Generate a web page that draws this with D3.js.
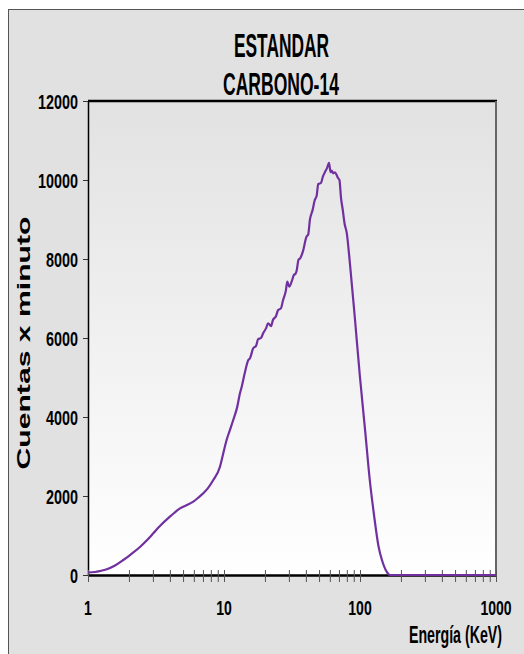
<!DOCTYPE html>
<html>
<head>
<meta charset="utf-8">
<script src="https://cdn.jsdelivr.net/npm/d3@7"></script>
<style>
  html, body { margin: 0; padding: 0; background: #ffffff; }
  svg { display: block; }
</style>
</head>
<body>
<svg id="chart" width="524" height="654"></svg>
<script>
// ---- data ----
const energy = [1.00, 1.126, 1.225, 1.372, 1.58, 1.818, 2.036, 2.41, 2.71, 3.02, 3.38, 4.0, 4.3, 4.75, 5.25, 5.95, 6.43, 7.04, 7.62, 8.34, 9.34, 9.83, 10.45, 11.0, 11.69, 12.5, 13.1, 13.5, 14.2, 15.1, 15.5, 16.4, 17.2, 17.8, 18.7, 19.4, 20.4, 21.1, 22.2, 22.9, 24.1, 25.0, 26.2, 27.2, 28.5, 29.2, 30.2, 31.6, 32.7, 33.5, 34.2, 35.3, 36.3, 38.1, 40.4, 41.6, 42.8, 44.9, 46.5, 48.0, 49.3, 51.5, 53.5, 55.4, 57.2, 59.2, 60.7, 61.9, 63.6, 65.4, 67.5, 68.9, 70.6, 72.5, 74.7, 77.0, 79.9, 84.3, 91.7, 100, 109, 118, 127, 137, 145, 157, 166, 200, 400, 1000];
const counts = [63, 76, 101, 144, 240, 380, 506, 709, 880, 1055, 1240, 1477, 1570, 1688, 1760, 1857, 1950, 2068, 2200, 2405, 2742, 3050, 3418, 3650, 3924, 4250, 4600, 4767, 5110, 5443, 5480, 5739, 5800, 5967, 6000, 6119, 6250, 6372, 6300, 6456, 6550, 6709, 6750, 6962, 7200, 7425, 7299, 7450, 7600, 7620, 7700, 7980, 8017, 8200, 8565, 8620, 8987, 9250, 9494, 9600, 9900, 9920, 10100, 10210, 10300, 10437, 10200, 10235, 10170, 10195, 10120, 10050, 10000, 9550, 9240, 8900, 8660, 7890, 6500, 5000, 3670, 2405, 1500, 716, 380, 84, 0, 0, 0, 0];
const yTicks = [0, 2000, 4000, 6000, 8000, 10000, 12000];
const xMajorTicks = [1, 10, 100, 1000];
const xMinorTicks = [2,3,4,5,6,7,8,9,20,30,40,50,60,70,80,90,200,300,400,500,600,700,800,900];
const titleLines = ["ESTANDAR", "CARBONO-14"];
const xLabel = "Energía (KeV)";
const yLabel = "Cuentas x minuto";

// ---- layout ----
const svg = d3.select("#chart");
const plot = { left: 88, right: 496, top: 101, bottom: 575 };
const sans = "'Liberation Sans', Arial, sans-serif";

// draw a text and squeeze it horizontally to a given width (like the condensed font of the original)
function fitText(parent, str, x, baseline, width, size, anchor, rotate) {
  const g = parent.append("g");
  const t = g.append("text").attr("x", 0).attr("y", 0)
    .attr("font-family", sans).attr("font-weight", "bold").attr("font-size", size)
    .attr("fill", "#000").text(str);
  const w = t.node().getComputedTextLength();
  const s = width / w;
  let tx = anchor === "middle" ? -w / 2 : anchor === "end" ? -w : 0;
  t.attr("x", tx);
  if (rotate) {
    g.attr("transform", `translate(${x},${baseline}) rotate(-90) scale(${s},1)`);
  } else {
    g.attr("transform", `translate(${x},${baseline}) scale(${s},1)`);
  }
  return g;
}

const defs = svg.append("defs");
const grad = defs.append("linearGradient").attr("id", "bg").attr("x1", 0).attr("y1", 0).attr("x2", 0).attr("y2", 1);
grad.append("stop").attr("offset", "0%").attr("stop-color", "#e2e2e2");
grad.append("stop").attr("offset", "100%").attr("stop-color", "#ffffff");

// outer frame
svg.append("rect").attr("x", 8).attr("y", 9).attr("width", 516).attr("height", 645)
  .attr("fill", "#e1e1e1");
svg.append("line").attr("x1", 8.5).attr("x2", 8.5).attr("y1", 9).attr("y2", 654).attr("stroke", "#555").attr("stroke-width", 1);
svg.append("line").attr("x1", 8).attr("x2", 524).attr("y1", 9.5).attr("y2", 9.5).attr("stroke", "#555").attr("stroke-width", 1);

// plot area
svg.append("rect").attr("x", plot.left).attr("y", plot.top)
  .attr("width", plot.right - plot.left).attr("height", plot.bottom - plot.top)
  .attr("fill", "url(#bg)");

const x = d3.scaleLog().domain([1, 1000]).range([plot.left, plot.right]);
const y = d3.scaleLinear().domain([0, 12000]).range([plot.bottom, plot.top]);

// plot border top & right
svg.append("line").attr("x1", plot.left).attr("x2", plot.right + 1).attr("y1", plot.top).attr("y2", plot.top)
  .attr("stroke", "#000").attr("stroke-width", 2.5);
svg.append("line").attr("x1", plot.right).attr("x2", plot.right).attr("y1", plot.top).attr("y2", plot.bottom)
  .attr("stroke", "#666").attr("stroke-width", 2);

// y axis
const yAxis = svg.append("g").attr("transform", `translate(${plot.left},0)`)
  .call(d3.axisLeft(y).tickValues(yTicks).tickSize(5).tickSizeOuter(0).tickFormat(""));
yAxis.select(".domain").attr("stroke", "#000").attr("stroke-width", 1.5);
yAxis.selectAll(".tick line").attr("stroke", "#333").attr("stroke-width", 1);
yTicks.forEach(v => {
  const s = d3.format("d")(v);
  fitText(svg, s, 78, y(v) + 7.5, s.length * 8, 21, "end");
});

// x axis
const xAxis = svg.append("g").attr("transform", `translate(0,${plot.bottom})`)
  .call(d3.axisBottom(x).tickValues(xMajorTicks.concat(xMinorTicks)).tickSize(7).tickSizeOuter(0).tickFormat(""));
xAxis.select(".domain").attr("stroke", "#000").attr("stroke-width", 2.5);
xAxis.selectAll(".tick line").attr("y1", -5).attr("y2", 7).attr("stroke", "#555").attr("stroke-width", 1);
xMajorTicks.forEach(v => {
  const s = String(v);
  fitText(svg, s, x(v), 615, s.length * 7.8, 21, "middle");
});

// data line
const pts = energy.map((e, i) => [e, counts[i]]);
const line = d3.line().x(d => x(d[0])).y(d => y(d[1])).curve(d3.curveMonotoneX);
svg.append("path").datum(pts).attr("d", line)
  .attr("fill", "none").attr("stroke", "#7030a0").attr("stroke-width", 2.2)
  .attr("stroke-linejoin", "round");

// titles
fitText(svg, titleLines[0], 281.5, 57, 95, 34, "middle");
fitText(svg, titleLines[1], 281, 95, 116, 32, "middle");

// axis labels
fitText(svg, xLabel, 409, 643, 93, 24, "start");
fitText(svg, yLabel, 30, 343, 253, 18, "middle", true);
</script>
</body>
</html>
